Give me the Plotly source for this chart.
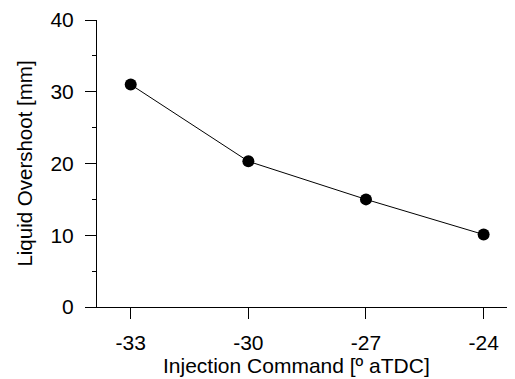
import plotly.graph_objects as go

injection_command = [-33, -30, -27, -24]
liquid_overshoot = [31.0, 20.3, 15.0, 10.1]
x_tick_vals = [-33, -30, -27, -24]
x_tick_text = ["-33", "-30", "-27", "-24"]
y_tick_vals = [0, 10, 20, 30, 40]
x_title = "Injection Command [º aTDC]"
y_title = "Liquid Overshoot [mm]"

fig = go.Figure()
fig.add_trace(go.Scatter(
    x=injection_command, y=liquid_overshoot, mode="lines+markers",
    line=dict(color="black", width=1),
    marker=dict(color="black", size=12),
    showlegend=False,
))

font = dict(family="Liberation Sans, Arial, sans-serif", size=21, color="black")
# page has an 8px body margin, so the figure is sized to fill the remaining window
fig.update_layout(
    width=507, height=371,
    margin=dict(l=89, r=0, t=12, b=71.5),
    paper_bgcolor="white", plot_bgcolor="white",
    font=font,
)
fig.update_xaxes(
    range=[-33.86, -23.2], tickvals=x_tick_vals, ticktext=x_tick_text,
    showline=True, linecolor="black", linewidth=1,
    ticks="outside", ticklen=11, tickcolor="black",
    ticklabelstandoff=6, automargin=False,
    showgrid=False, zeroline=False,
)
fig.update_yaxes(
    range=[0, 40], tickvals=y_tick_vals,
    showline=True, linecolor="black", linewidth=1,
    ticks="outside", ticklen=11, tickcolor="black",
    ticklabelstandoff=7, automargin=False,
    minor=dict(dtick=5, ticks="outside", ticklen=4, tickcolor="black", showgrid=False),
    showgrid=False, zeroline=False,
    title=dict(text=y_title, font=dict(size=20.5), standoff=12),
)
fig.add_annotation(
    text=x_title, xref="paper", yref="paper", x=0.4768, y=-0.2035,
    xanchor="center", yanchor="middle", showarrow=False, font=font,
)
fig.write_html("out.html")
